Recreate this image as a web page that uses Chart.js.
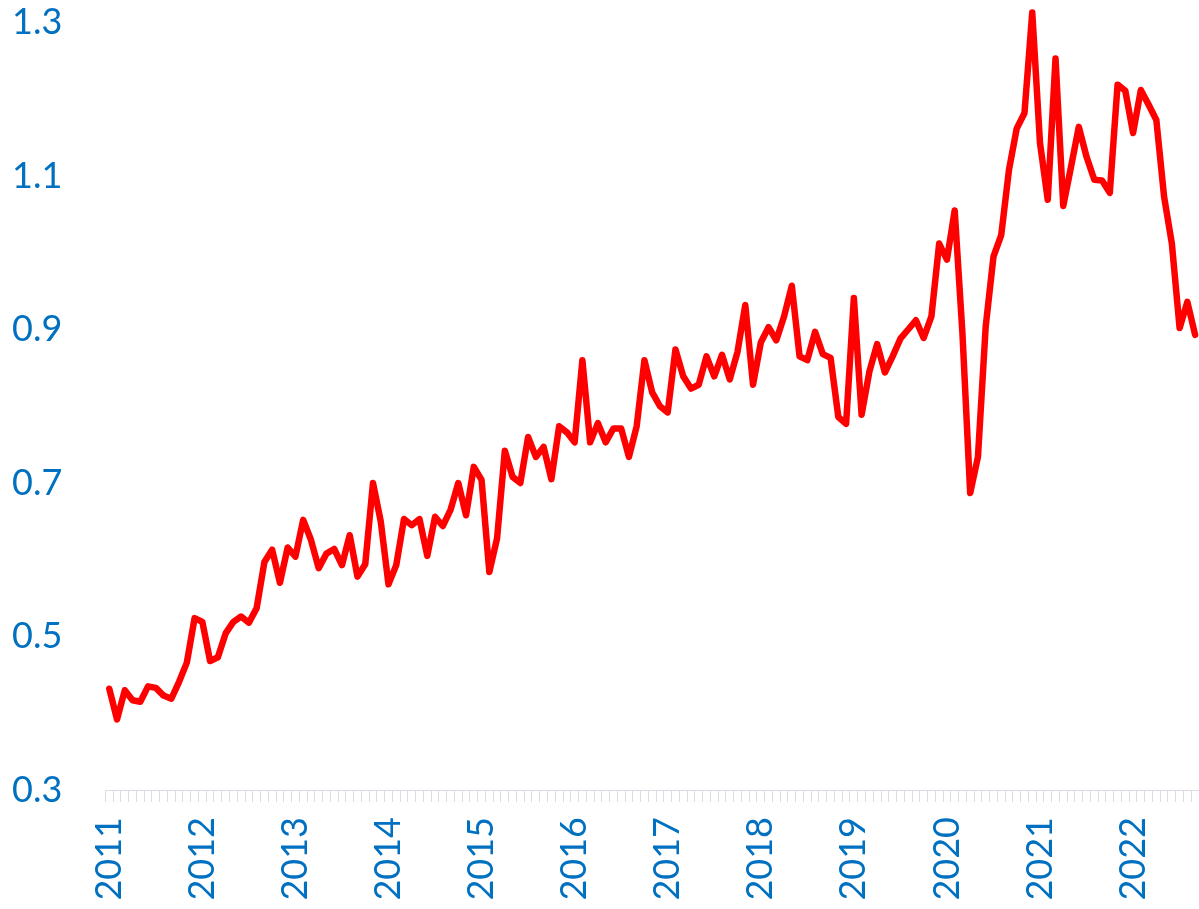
<!DOCTYPE html>
<html>
<head>
<meta charset="utf-8">
<style>
  html, body { margin: 0; padding: 0; background: #ffffff; }
  #wrap { width: 1199px; height: 909px; position: relative; }
</style>
<script src="https://cdn.jsdelivr.net/npm/chart.js@4/dist/chart.umd.min.js"></script>
</head>
<body>
<div id="wrap"><canvas id="c" width="1199" height="909"></canvas></div>
<script>
// Monthly categories Jan 2011 .. Sep 2022
const months = [];
for (let y = 2011; y <= 2022; y++) {
  for (let m = 1; m <= 12; m++) {
    if (y === 2022 && m > 9) break;
    months.push(y + '-' + String(m).padStart(2, '0'));
  }
}

const values2011 = [0.432, 0.392, 0.430, 0.417, 0.415, 0.435, 0.433, 0.423, 0.419, 0.441, 0.466, 0.524];
const values2012 = [0.519, 0.468, 0.473, 0.504, 0.519, 0.526, 0.518, 0.537, 0.597, 0.613, 0.570, 0.616];
const values2013 = [0.604, 0.652, 0.626, 0.589, 0.608, 0.614, 0.593, 0.632, 0.578, 0.594, 0.700, 0.650];
const values2014 = [0.568, 0.593, 0.653, 0.645, 0.653, 0.605, 0.656, 0.644, 0.665, 0.700, 0.658, 0.721];
const values2015 = [0.704, 0.584, 0.628, 0.742, 0.708, 0.700, 0.760, 0.734, 0.747, 0.705, 0.774, 0.766];
const values2016 = [0.753, 0.860, 0.753, 0.778, 0.753, 0.771, 0.771, 0.734, 0.774, 0.860, 0.818, 0.800];
const values2017 = [0.792, 0.874, 0.839, 0.823, 0.828, 0.865, 0.839, 0.867, 0.835, 0.871, 0.932, 0.828];
const values2018 = [0.883, 0.903, 0.886, 0.917, 0.957, 0.865, 0.860, 0.897, 0.868, 0.863, 0.786, 0.777];
const values2019 = [0.941, 0.789, 0.845, 0.881, 0.844, 0.865, 0.888, 0.900, 0.912, 0.889, 0.917, 1.012];
const values2020 = [0.991, 1.055, 0.895, 0.687, 0.734, 0.904, 0.995, 1.023, 1.108, 1.162, 1.182, 1.313];
const values2021 = [1.143, 1.069, 1.253, 1.061, 1.112, 1.164, 1.125, 1.095, 1.094, 1.078, 1.219, 1.211];
const values2022 = [1.156, 1.212, 1.193, 1.173, 1.073, 1.012, 0.902, 0.936, 0.893];

const seriesValues = [].concat(values2011, values2012, values2013, values2014, values2015,
  values2016, values2017, values2018, values2019, values2020, values2021, values2022);

const yTicks = [0.3, 0.5, 0.7, 0.9, 1.1, 1.3];

const BLUE = '#0070C0';
const GREY = '#DADDE3';
const FONT = { family: 'Lato', size: 36 };

new Chart(document.getElementById('c'), {
  type: 'line',
  data: {
    labels: months,
    datasets: [{
      data: seriesValues,
      borderColor: '#FF0000',
      borderWidth: 6.5,
      pointRadius: 0,
      pointHoverRadius: 0,
      tension: 0,
      borderJoinStyle: 'round',
      borderCapStyle: 'round',
      clip: false,
      fill: false
    }]
  },
  options: {
    responsive: false,
    animation: false,
    events: [],
    layout: { padding: { left: 12, right: 0, top: 22.5, bottom: 9 } },
    plugins: { legend: { display: false }, tooltip: { enabled: false } },
    scales: {
      x: {
        type: 'category',
        offset: true,
        afterFit: function(s) {
          s.height = 110;
          s.paddingLeft = 0;
          s.paddingRight = 0;
        },
        grid: {
          offset: true,
          drawOnChartArea: false,
          drawTicks: true,
          tickLength: 12,
          tickColor: GREY,
          color: GREY,
          lineWidth: 1
        },
        border: { display: true, color: GREY, width: 1 },
        ticks: {
          autoSkip: false,
          maxRotation: 90,
          minRotation: 90,
          padding: 15,
          color: BLUE,
          font: FONT,
          callback: function(v, i) {
            const lab = months[i];
            return lab.endsWith('-01') ? lab.slice(0, 4) : '';
          }
        }
      },
      y: {
        min: 0.3,
        max: 1.3,
        afterBuildTicks: function(scale) {
          scale.ticks = yTicks.map(v => ({ value: v }));
        },
        afterFit: function(s) {
          s.width = 93.4;
          s.paddingTop = 0;
          s.paddingBottom = 0;
        },
        grid: { display: false, drawTicks: false },
        border: { display: false },
        ticks: {
          padding: 0,
          crossAlign: 'far',
          color: BLUE,
          font: FONT,
          callback: function(v) { return v.toFixed(1); }
        }
      }
    }
  }
});
</script>
</body>
</html>
